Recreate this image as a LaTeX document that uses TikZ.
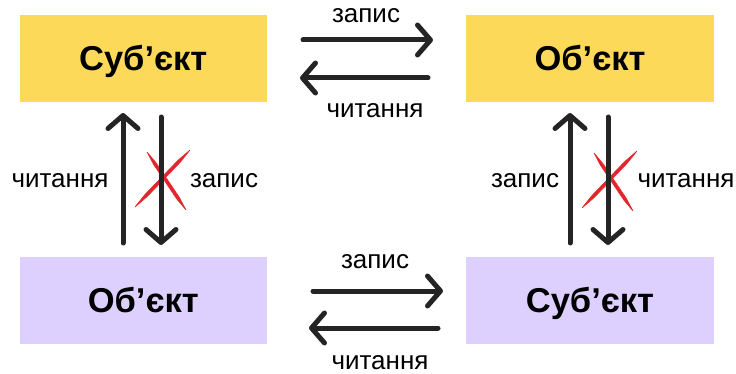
\documentclass[tikz,border=0pt]{standalone}
\usepackage{fontspec}
\setmainfont{Liberation Sans}
\usetikzlibrary{arrows.meta}
\definecolor{boxyellow}{HTML}{FDD95A}
\definecolor{boxviolet}{HTML}{DDD0FF}
\definecolor{ink}{HTML}{242424}
\definecolor{crossred}{HTML}{E0282C}
\tikzset{
  entity/.style={inner sep=0pt, minimum width=247.5pt, minimum height=87pt,
    font=\fontsize{34.5}{40}\selectfont\bfseries, text height=24pt, text depth=0pt},
  subj/.style={entity, fill=boxyellow},
  obj/.style={entity, fill=boxviolet},
  lbl/.style={inner sep=0pt, anchor=base, font=\fontsize{26}{30}\selectfont},
  flow/.style={draw=ink, line width=5pt, line cap=round,
    -{Straight Barb[length=13pt, width=30pt, line width=5pt, round]}},
  stroke/.style={fill=crossred, draw=crossred, line width=0.6pt, line join=round},
  crossmark/.pic={
    % two tapered brush strokes
    \filldraw[stroke] (135,207) -- (147.08,196.64) -- (180.08,162.44) -- (190,150)
      -- (177.92,160.36) -- (144.92,194.56) -- cycle;
    \filldraw[stroke] (147,152) -- (156.05,162.76) -- (179.45,197.56) -- (186,210)
      -- (176.95,199.24) -- (153.55,164.44) -- cycle;
  }
}
\begin{document}
\begin{tikzpicture}[x=1pt, y=-1pt]
  \useasboundingbox (0,0) rectangle (736,374);

  % entity boxes
  \node[subj] (s1) at (143.25,58.5) {Суб’єкт};
  \node[subj] (o1) at (590,58.5) {Об’єкт};
  \node[obj]  (o2) at (143.25,300) {Об’єкт};
  \node[obj]  (s2) at (590,300) {Суб’єкт};

  % forbidden directions (drawn under the arrows)
  \pic at (0,0) {crossmark};
  \pic at (447,1) {crossmark};

  % arrow end points
  \coordinate (tw0) at (303,40);  \coordinate (tw1) at (433,40);
  \coordinate (tr0) at (428,78);  \coordinate (tr1) at (300,78);
  \coordinate (bw0) at (313,291); \coordinate (bw1) at (443,291);
  \coordinate (br0) at (438,328); \coordinate (br1) at (309,328);
  \coordinate (lu0) at (123,243); \coordinate (lu1) at (123,113);
  \coordinate (ld0) at (161,117); \coordinate (ld1) at (161,245);
  \coordinate (ru0) at (570,243); \coordinate (ru1) at (570,113);
  \coordinate (rd0) at (608,117); \coordinate (rd1) at (608,245);

  \draw[flow] (tw0) -- (tw1);
  \draw[flow] (tr0) -- (tr1);
  \draw[flow] (bw0) -- (bw1);
  \draw[flow] (br0) -- (br1);
  \draw[flow] (lu0) -- (lu1);
  \draw[flow] (ld0) -- (ld1);
  \draw[flow] (ru0) -- (ru1);
  \draw[flow] (rd0) -- (rd1);

  % labels
  \node[lbl] (t1) at (366,23)  {запис};
  \node[lbl] (t2) at (375,118) {читання};
  \node[lbl] (t3) at (375,268) {запис};
  \node[lbl] (t4) at (380,369) {читання};
  \node[lbl] (t5) at (60,188)  {читання};
  \node[lbl] (t6) at (224,188) {запис};
  \node[lbl] (t7) at (525,188) {запис};
  \node[lbl] (t8) at (686,188) {читання};
\end{tikzpicture}
\end{document}
